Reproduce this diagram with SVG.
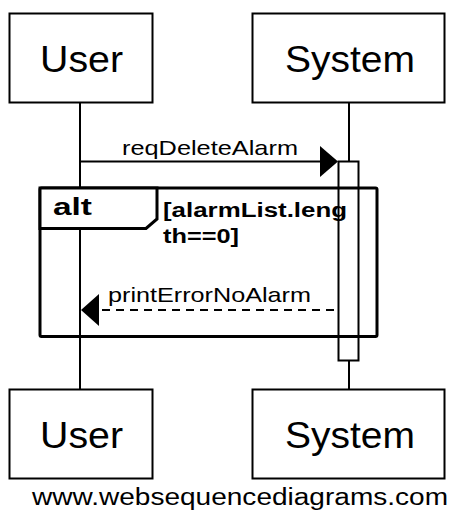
<svg xmlns="http://www.w3.org/2000/svg" width="460" height="513" viewBox="0 0 460 513">
<style>
.box{fill:#fff;stroke:#000;stroke-width:2}
.life{stroke:#000;stroke-width:2;fill:none}
.t{font-family:"Liberation Sans",Arial,sans-serif;fill:#000}
.b{font-weight:bold}
.msg{stroke:#000;stroke-width:2;fill:none}
.dash{stroke-dasharray:8 6}
.head{fill:#000}
.frame{fill:none;stroke:#000;stroke-width:3}
</style>
<g id="lifelines">
<line class="life" x1="80" y1="103" x2="80" y2="389"/>
<line class="life" x1="349" y1="103" x2="349" y2="389"/>
</g>
<g id="activation">
<rect x="338.5" y="161.5" width="20" height="199" class="box"/>
</g>
<g id="frame-alt">
<rect x="40" y="188" width="337" height="148.5" class="frame" rx="1.5"/>
<path d="M40 188 H157 V219 L146 228.5 H40 Z" fill="#fff" stroke="#000" stroke-width="3"/>
<text class="t b" x="53" y="215" font-size="23" textLength="39" lengthAdjust="spacingAndGlyphs">alt</text>
<text class="t b" x="163" y="217" font-size="20" textLength="184" lengthAdjust="spacingAndGlyphs">[alarmList.leng</text>
<text class="t b" x="163" y="243" font-size="20" textLength="76" lengthAdjust="spacingAndGlyphs">th==0]</text>
</g>
<g id="connectors">
<g id="msg-reqDeleteAlarm">
<line class="msg" x1="80" y1="161.5" x2="322" y2="161.5"/>
<polygon class="head" points="338,161.5 320,146 320,177"/>
<text class="t" x="122" y="155" font-size="21" textLength="176" lengthAdjust="spacingAndGlyphs">reqDeleteAlarm</text>
</g>
<g id="msg-printErrorNoAlarm">
<line class="msg dash" x1="334" y1="310" x2="98" y2="310"/>
<polygon class="head" points="81,310 99,294 99,326"/>
<text class="t" x="108" y="302" font-size="21" textLength="203" lengthAdjust="spacingAndGlyphs">printErrorNoAlarm</text>
</g>
</g>
<g id="node-user-top">
<rect x="9.5" y="13.5" width="143" height="89" class="box"/>
<text class="t" x="40" y="72" font-size="37" textLength="83" lengthAdjust="spacingAndGlyphs">User</text>
</g>
<g id="node-system-top">
<rect x="252.5" y="13.5" width="192" height="89" class="box"/>
<text class="t" x="285" y="72" font-size="37" textLength="130" lengthAdjust="spacingAndGlyphs">System</text>
</g>
<g id="node-user-bottom">
<rect x="9.5" y="389.5" width="143" height="89" class="box"/>
<text class="t" x="40" y="448" font-size="37" textLength="83" lengthAdjust="spacingAndGlyphs">User</text>
</g>
<g id="node-system-bottom">
<rect x="252.5" y="389.5" width="192" height="89" class="box"/>
<text class="t" x="285" y="448" font-size="37" textLength="130" lengthAdjust="spacingAndGlyphs">System</text>
</g>
<text class="t" x="32" y="505" font-size="23" textLength="416" lengthAdjust="spacingAndGlyphs">www.websequencediagrams.com</text>
</svg>
